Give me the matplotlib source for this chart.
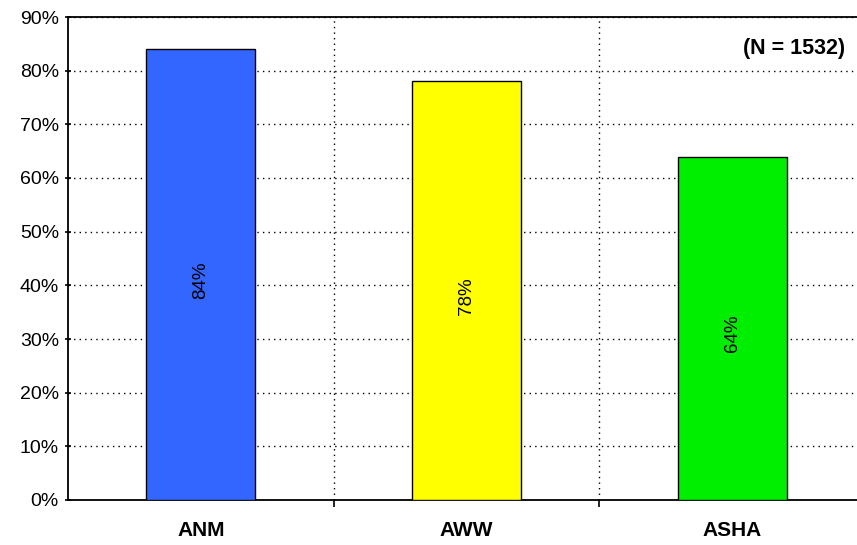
import matplotlib
matplotlib.use('Agg')
import matplotlib.pyplot as plt
import matplotlib.ticker as ticker

plt.rcParams['font.family'] = ['Liberation Sans', 'DejaVu Sans']

# Worker categories and share of respondents
workers = ['ANM', 'AWW', 'ASHA']
shares = [84, 78, 64]
bar_colors = ['#3366FF', '#FFFF00', '#00EE00']
sample_note = '(N = 1532)'

fig = plt.figure(figsize=(8.57, 5.45), dpi=100)
ax = fig.add_axes([68 / 857, 45 / 545, 789 / 857, 483 / 545])

x = list(range(len(workers)))
bars = ax.bar(x, shares, width=0.41, color=bar_colors, edgecolor='black', linewidth=1.0, zorder=3)

# Value labels, rotated, centred in each bar
for bar, val in zip(bars, shares):
    ax.text(bar.get_x() + bar.get_width() / 2, val / 2 - 1, f'{val}%',
            rotation=90, ha='center', va='center', fontsize=13.5, zorder=4)

ax.set_xlim(-0.5, 2.47)
ax.set_ylim(0, 90)
ax.yaxis.set_major_locator(ticker.MultipleLocator(10))
ax.yaxis.set_major_formatter(ticker.FuncFormatter(lambda v, p: f'{v:.0f}%'))

# Category labels centred, ticks on the category boundaries
ax.set_xticks([0.5, 1.5])
ax.set_xticklabels([])
ax.set_xticks(x, minor=True)
ax.set_xticklabels(workers, minor=True, fontsize=15, fontweight='bold')
ax.tick_params(axis='x', which='minor', length=0, pad=15)
ax.tick_params(axis='x', which='major', length=5, width=1.2, direction='out')
ax.tick_params(axis='y', length=5, width=1.2, direction='inout', labelsize=14, pad=4)

# Dotted grid
ax.grid(True, which='major', axis='both', linestyle=(0, (1, 3)), color='black', linewidth=1.0, zorder=1)
ax.set_axisbelow(True)

for side in ['left', 'bottom', 'top']:
    ax.spines[side].set_linewidth(1.3)
ax.spines['right'].set_visible(False)

ax.text(0.985, 0.935, sample_note, transform=ax.transAxes, ha='right', va='center',
        fontsize=15.5, fontweight='bold')

fig.savefig('out.png', dpi=100, facecolor='white')
